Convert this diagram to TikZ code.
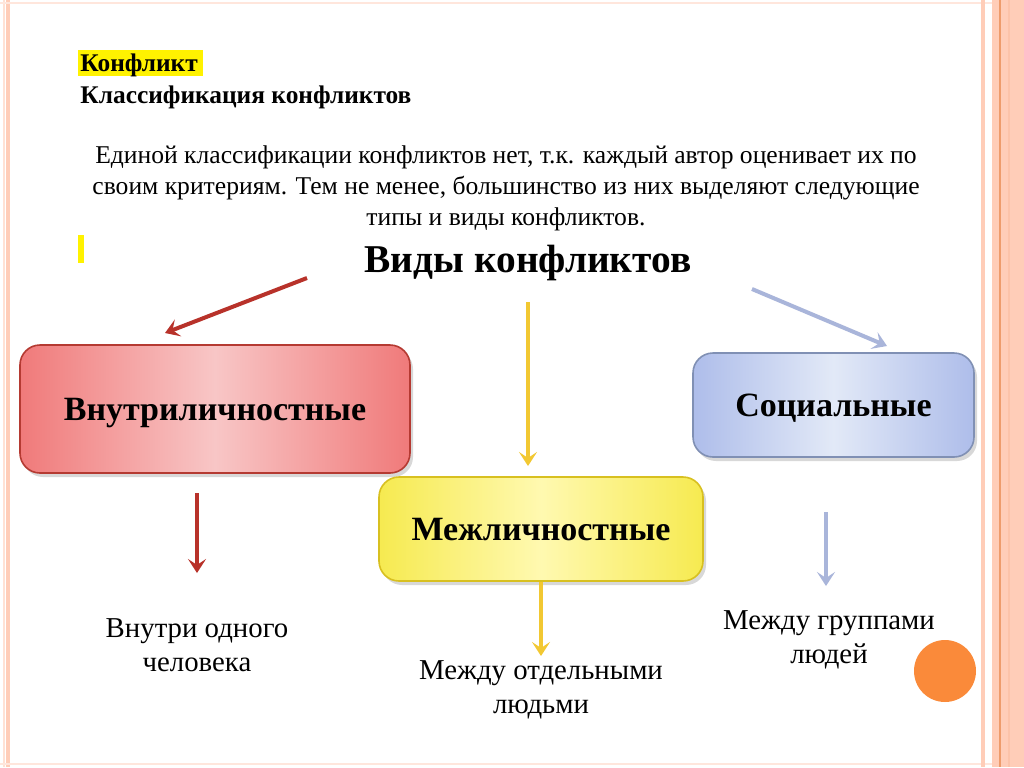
\documentclass[tikz,border=0pt]{standalone}
\usepackage{fontspec}
\setmainfont{Liberation Serif}
\usetikzlibrary{shadows,arrows.meta}
\definecolor{stripe}{HTML}{FFCDB8}
\definecolor{stripedark}{HTML}{EE9C6C}
\definecolor{redfill}{HTML}{F07A7A}
\definecolor{redmid}{HTML}{F8C6C6}
\definecolor{redline}{HTML}{B53A32}
\definecolor{yelfill}{HTML}{F6EA50}
\definecolor{yelmid}{HTML}{FFF9B0}
\definecolor{yelline}{HTML}{D8C020}
\definecolor{yelarrow}{HTML}{F2C832}
\definecolor{bluefill}{HTML}{AEBDEA}
\definecolor{bluemid}{HTML}{E2E9F7}
\definecolor{blueline}{HTML}{8090B4}
\definecolor{bluearrow}{HTML}{A9B5DA}
\definecolor{arrowred}{HTML}{B8322A}
\definecolor{orangedot}{HTML}{FA8A3A}
\tikzset{
  box/.style={rounded corners=10pt, line width=0.8pt, font=\fontsize{17}{20}\selectfont\bfseries,
    drop shadow={shadow xshift=1.5pt, shadow yshift=-2pt, opacity=0.3}},
  arr/.style={line width=2pt, -{Stealth[length=7pt,width=9pt,inset=3pt]}},
  lbl/.style={align=center, font=\fontsize{14.4}{17}\selectfont},
}
\begin{document}
\begin{tikzpicture}[x=0.5pt,y=-0.5pt]
\useasboundingbox (0,0) rectangle (1024,767);
\fill[white] (0,0) rectangle (1024,767);
% borders
\fill[stripe!60] (3,0) rectangle (5,767);
\fill[stripe] (6,0) rectangle (10,767);
\fill[stripe!50] (0,2) rectangle (1024,4);
\fill[stripe!50] (0,763) rectangle (1024,765);
\fill[stripe] (981,0) rectangle (985,767);
\fill[stripe] (992,0) rectangle (1024,767);
\draw[stripedark, line width=0.6pt] (1000,0) -- (1000,767);
\draw[stripe!80!stripedark, line width=1pt] (1009,0) -- (1009,767);
% header
\fill[yellow] (78,50) rectangle (203,76);
\node[anchor=base west, font=\fontsize{12.7}{15}\selectfont\bfseries, inner sep=0] (t1) at (80,71) {Конфликт};
\node[anchor=base west, font=\fontsize{12.7}{15}\selectfont\bfseries, inner sep=0] (t2) at (80,103) {Классификация конфликтов};
\node[align=center, font=\fontsize{12.8}{15.5}\selectfont, inner sep=0] (intro) at (506,188)
  {Единой классификации конфликтов нет, т.к. каждый автор оценивает их по\\
   своим критериям. Тем не менее, большинство из них выделяют следующие\\
   типы и виды конфликтов.};
\fill[yellow] (78,235) rectangle (84,263);
\node[font=\fontsize{19.7}{22}\selectfont\bfseries, inner sep=0] (title) at (528,263) {Виды конфликтов};
% boxes
\node[box, draw=redline, left color=redfill, right color=redfill, middle color=redmid,
  minimum width=195pt, minimum height=64pt, text depth=-2pt] (b1) at (215,409) {Внутриличностные};
\node[box, draw=yelline, left color=yelfill, right color=yelfill, middle color=yelmid,
  minimum width=162pt, minimum height=52pt, text depth=-1pt] (b2) at (541,529) {Межличностные};
\node[box, draw=blueline, left color=bluefill, right color=bluefill, middle color=bluemid,
  minimum width=140.5pt, minimum height=52pt, text depth=-1pt] (b3) at (833.5,405) {Социальные};
% connector anchors
\coordinate (a1s) at (307,278);
\coordinate (a1e) at (165,333);
\coordinate (a2s) at (528,302);
\coordinate (a2e) at (528,466);
\coordinate (a3s) at (752,289);
\coordinate (a3e) at (887,346);
\draw[arr, arrowred] (a1s) -- (a1e);
\draw[arr, yelarrow] (a2s) -- (a2e);
\draw[arr, bluearrow] (a3s) -- (a3e);
% lower labels
\node[lbl] (l1) at (197,645) {Внутри одного\\человека};
\node[lbl] (l2) at (541,690) {Между отдельными\\людьми};
\node[lbl] (l3) at (829,640) {Между группами\\людей};
\coordinate (d1s) at (197,493);
\coordinate (d3s) at (826,512);
\draw[arr, arrowred] (d1s) -- (197,573);
\draw[arr, yelarrow] (b2.south -| 541,0) -- (541,656);
\draw[arr, bluearrow] (d3s) -- (826,586);
% orange dot
\fill[orangedot] (945,671) circle (15.5pt);
\end{tikzpicture}
\end{document}
